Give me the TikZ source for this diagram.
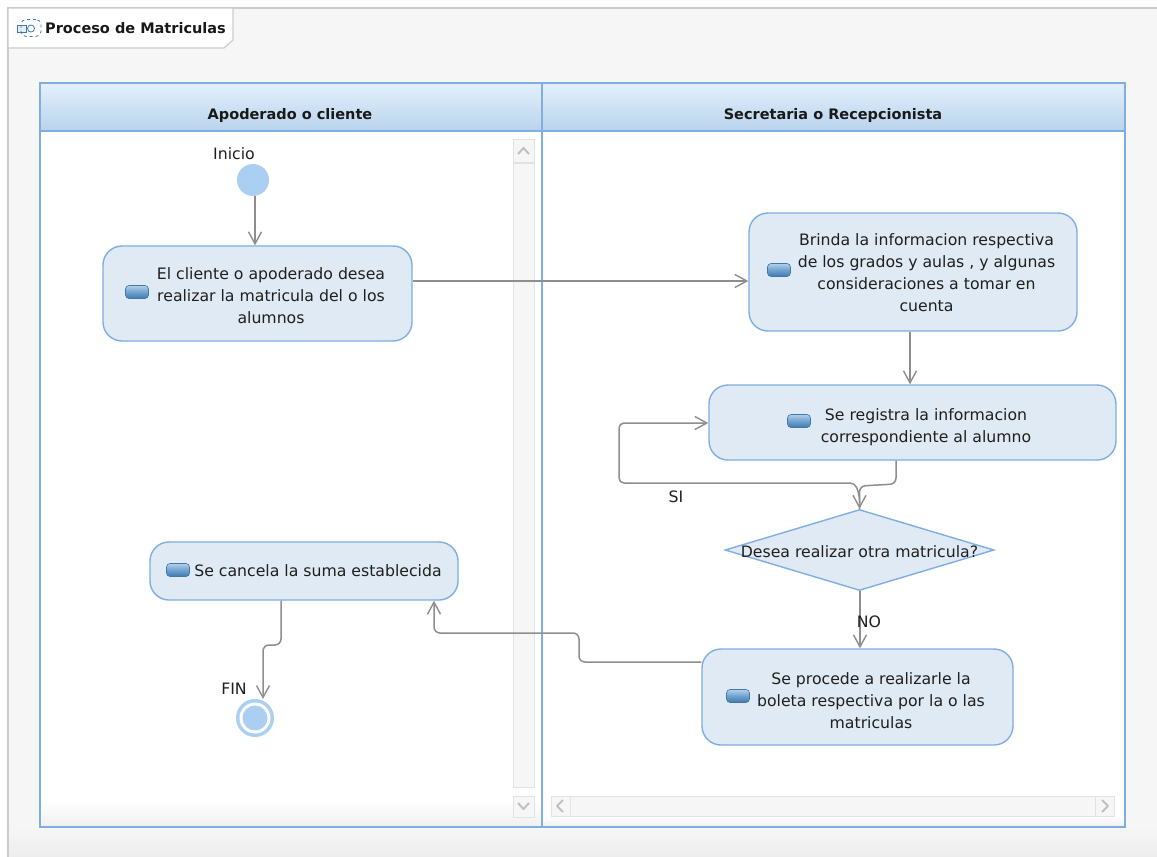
\documentclass[tikz,border=0pt]{standalone}
\usepackage{fontspec}
\setmainfont{DejaVu Sans}
\usetikzlibrary{arrows.meta,shapes.geometric,calc}
\definecolor{lane}{HTML}{7FAEE0}
\definecolor{actfill}{HTML}{E0EAF5}
\definecolor{flowgray}{HTML}{8E8E8E}
\definecolor{dot}{HTML}{AACFF2}
\definecolor{panel}{HTML}{F6F6F6}
\definecolor{sb}{HTML}{E2E2E2}
\definecolor{hdrtop}{HTML}{E3F0FC}
\definecolor{hdrbot}{HTML}{B9D3EC}
\definecolor{icontop}{HTML}{B4CFE8}
\definecolor{iconmid}{HTML}{6FA2CF}
\definecolor{iconbot}{HTML}{3F79AB}
\definecolor{iconline}{HTML}{3F79AB}
\newcommand\acttext[2]{\hspace*{27pt}\raisebox{0pt}[\dimexpr\height+#1pt\relax]{\begin{tabular}{@{}c@{}}#2\end{tabular}}}
\tikzset{
  base/.style={font=\fontsize{15.7}{22}\selectfont,text=black!88},
  act/.style={base,draw=lane,fill=actfill,line width=1.4pt,rounded corners=19pt,inner sep=0pt},
  icon/.style={draw=iconline,line width=.6pt,rounded corners=3.5pt,minimum width=23pt,minimum height=13pt,inner sep=0pt,top color=icontop,bottom color=iconbot,middle color=iconmid},
  flow/.style={draw=flowgray,line width=1.5pt,rounded corners=6pt,-{Straight Barb[length=12pt,width=13pt,line width=1.4pt]}},
  hdr/.style={font=\fontsize{14.5}{17}\selectfont\bfseries,text=black!90},
  lbl/.style={base,inner sep=0pt},
  sbbox/.style={draw=sb,fill=panel,line width=1pt},
  sbglyph/.style={draw=sb!85!black,line width=2pt,line join=round},
}
\begin{document}
\begin{tikzpicture}[x=1pt,y=-1pt]
\useasboundingbox (0,0) rectangle (1157,857);
\fill[white] (0,0) rectangle (1157,857);
% panel
\fill[panel] (8,8) rectangle (1157,857);
\shade[top color=panel,bottom color=black!7] (8,827) rectangle (1157,857);
\draw[black!20,line width=1.2pt] (1157,8) -- (8,8) -- (8,857);
\draw[black!20,fill=white,line width=1.2pt] (8,8) -- (233,8) -- (233,40) -- (224,48) -- (8,48) -- cycle;
% title icon
\node[draw=iconline,fill=hdrtop,line width=.9pt,minimum width=9pt,minimum height=7pt,inner sep=0pt] (ticon1) at (22,29) {};
\node[draw=iconline,dashed,rounded corners=5pt,line width=.8pt,minimum width=20pt,minimum height=17pt,inner sep=0pt] (ticon2) at (31,28) {};
\node[draw=iconline,circle,line width=.8pt,minimum size=7pt,inner sep=0pt] (ticon3) at (31,28.5) {};
\node[hdr,anchor=west,inner sep=0pt] (title) at (45,28.5) {Proceso de Matriculas};
% lanes
\fill[white] (40,83) rectangle (1125,827);
\shade[top color=white,bottom color=black!6] (40,800) rectangle (542,827);
\shade[top color=white,bottom color=black!6] (542,815) rectangle (1125,827);
\shade[top color=hdrtop,bottom color=hdrbot,draw=lane,line width=1.4pt] (40,83) rectangle (1125,131);
\draw[lane,line width=1.4pt] (40,83) rectangle (1125,827);
\draw[lane,line width=1.4pt] (542,83) -- (542,827);
\node[hdr] (h1) at (290,115) {Apoderado o cliente};
\node[hdr] (h2) at (833,115) {Secretaria o Recepcionista};
% scrollbars
\draw[sbbox] (513,139) rectangle (534,162);
\draw[sbglyph] (518,154) -- (523.5,148) -- (529,154);
\draw[sbbox] (513,163) rectangle (534,787);
\draw[sbbox] (513,796) rectangle (534,817);
\draw[sbglyph] (518,803) -- (523.5,809) -- (529,803);
\draw[sbbox] (551,796) rectangle (1114,816);
\draw[sbbox] (551,796) rectangle (570,816);
\draw[sbglyph] (563,800) -- (557,806) -- (563,812);
\draw[sbbox] (1095,796) rectangle (1114,816);
\draw[sbglyph] (1102,800) -- (1108,806) -- (1102,812);
% nodes
\node[circle,fill=dot,minimum size=32pt,inner sep=0pt] (start) at (253,180) {};
\node[lbl] (lstart) at (234,154) {Inicio};
\node[act,minimum width=309pt,minimum height=95pt] (A) at (257.5,293.5) {\acttext{7}{El cliente o apoderado desea\\realizar la matricula del o los\\alumnos}};
\node[icon] (iA) at (137,292) {};
\node[act,minimum width=328pt,minimum height=118pt] (B) at (913,272) {\acttext{5}{Brinda la informacion respectiva\\de los grados y aulas , y algunas\\consideraciones a tomar en\\cuenta}};
\node[icon] (iB) at (779,270) {};
\node[act,minimum width=407pt,minimum height=75pt] (C) at (912.5,422.5) {\acttext{10}{Se registra la informacion\\correspondiente al alumno}};
\node[icon] (iC) at (799,421) {};
\node[diamond,draw=lane,fill=actfill,line width=1.4pt,minimum width=269pt,minimum height=81pt,aspect=3.32,inner sep=0pt] (Q) at (859.5,550) {};
\node[lbl] (Qt) at (859.5,552) {Desea realizar otra matricula?};
\node[act,minimum width=311pt,minimum height=96pt] (E) at (857.5,697) {\acttext{10}{Se procede a realizarle la\\boleta respectiva por la o las\\matriculas}};
\node[icon] (iE) at (738,696) {};
\node[act,minimum width=308pt,minimum height=58pt] (D) at (304,571) {\hspace*{1pt}\acttext{2}{Se cancela la suma establecida}};
\node[icon] (iD) at (178,570) {};
\node[circle,fill=dot,minimum size=38pt,inner sep=0pt] (endo) at (255,718) {};
\node[circle,fill=white,minimum size=31pt,inner sep=0pt] (endw) at (255,718) {};
\node[circle,fill=dot,minimum size=25pt,inner sep=0pt] (endi) at (255,718) {};
\node[lbl] (lfin) at (234,689) {FIN};
% routing coordinates
\coordinate (ab) at (580,281);
\coordinate (bc) at (910,358);
\coordinate (cq) at (896,484);
\coordinate (qn) at (859.5,486);
\coordinate (si1) at (619,483);
\coordinate (si2) at (619,423);
\coordinate (ed1) at (579,662);
\coordinate (ed2) at (579,633);
\coordinate (ed3) at (434,633);
\coordinate (df1) at (281,645);
\coordinate (df2) at (263,645);
\coordinate (df3) at (263,699);
\coordinate (sa) at (255,220);
\coordinate (qs) at (860,620);
% connectors
\draw[flow] (start.south -| sa) -- (A.north -| sa);
\draw[flow] (A.east |- ab) -- (B.west |- ab);
\draw[flow] (B.south -| bc) -- (C.north -| bc);
\draw[flow] (C.south -| cq) -- (cq) -- (qn) -- (Q.north);
\draw[flow] (Q.north) -- (859.5,495) [rounded corners=5pt] -- (855,483) -- (si1) -- (si2) -- (C.west |- si2);
\draw[flow] (Q.south -| qs) -- (E.north -| qs);
\draw[flow] (E.west |- ed1) -- (ed1) -- (ed2) -- (ed3) -- (D.south -| ed3);
\draw[flow] (D.south -| df1) -- (df1) -- (df2) -- (df3);
\node[lbl] (lsi) at (676,497) {SI};
\node[lbl] (lno) at (869,622) {NO};
\end{tikzpicture}
\end{document}
